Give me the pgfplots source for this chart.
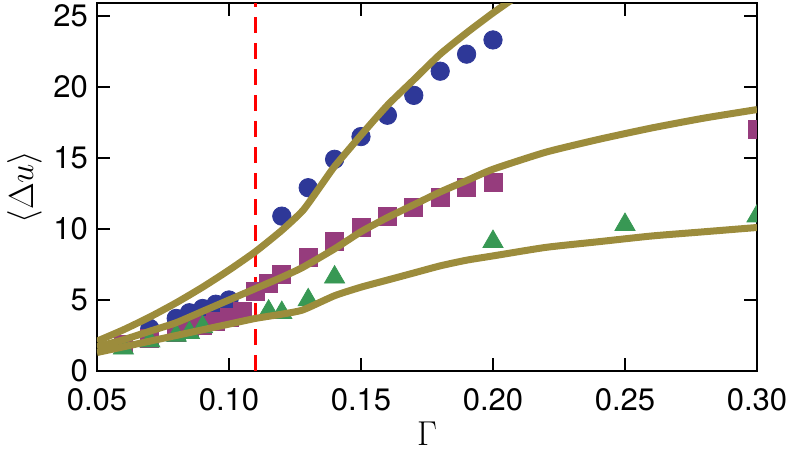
\documentclass[border=0pt]{standalone}
\usepackage{fontspec}
\setmainfont{TeX Gyre Heros}
\usepackage{pgfplots}
\pgfplotsset{compat=1.18}
\definecolor{olive2}{RGB}{156,140,60}
\definecolor{cblue}{RGB}{46,56,152}
\definecolor{cmag}{RGB}{150,60,125}
\definecolor{cgreen}{RGB}{56,152,84}
\begin{document}
\begin{tikzpicture}
\begin{axis}[
  scale only axis, width=330pt, height=184pt,
  xmin=0.05, xmax=0.30, ymin=0, ymax=25.9,
  clip marker paths=true,
  xtick={0.05,0.10,0.15,0.20,0.25,0.30},
  ytick={0,5,10,15,20,25},
  xticklabel style={/pgf/number format/fixed, /pgf/number format/fixed zerofill, /pgf/number format/precision=2, yshift=-5pt},
  yticklabel style={xshift=-1pt},
  /pgf/number format/assume math mode=true,
  tick label style={font=\fontsize{15.5}{17}\selectfont},
  tick align=inside, major tick length=6.5pt,
  tick style={black, line width=1pt},
  axis line style={line width=1.3pt},
  xlabel={$\Gamma$}, ylabel={$\langle\Delta u\rangle$},
  label style={font=\fontsize{18}{20}\selectfont},
  xlabel style={yshift=1pt},
  ylabel style={yshift=-1pt},
]
\addplot[red, line width=1.3pt, dash pattern=on 8pt off 5pt] coordinates {(0.11,0) (0.11,25.9)};
\addplot[only marks, mark=*, mark size=4.6pt, color=cblue] coordinates {
(0.07,3.0) (0.08,3.7) (0.085,4.1) (0.09,4.4) (0.095,4.7) (0.10,5.0)
(0.12,10.9) (0.13,12.9) (0.14,14.9) (0.15,16.5) (0.16,18.0) (0.17,19.4)
(0.18,21.1) (0.19,22.3) (0.20,23.3)};
\addplot[only marks, mark=square*, mark size=4.5pt, color=cmag] coordinates {
(0.06,1.9) (0.07,2.3) (0.08,2.7) (0.085,3.0) (0.09,3.2) (0.095,3.5) (0.10,3.8)
(0.105,4.2) (0.11,5.6) (0.115,6.2) (0.12,6.8) (0.13,8.0) (0.14,9.1) (0.15,10.1)
(0.16,10.9) (0.17,11.5) (0.18,12.2) (0.19,12.9) (0.20,13.3) (0.30,17.0)};
\addplot[only marks, mark=triangle*, mark size=5.8pt, color=cgreen] coordinates {
(0.06,1.6) (0.07,2.1) (0.08,2.5) (0.085,2.7) (0.09,3.1) (0.115,4.2) (0.12,4.1)
(0.13,5.0) (0.14,6.6) (0.20,9.1) (0.25,10.3) (0.30,10.9)};
\addplot[olive2, line width=3.5pt, no marks, smooth, tension=0.35] coordinates {
(0.05,2.1) (0.06,2.9) (0.07,3.8) (0.08,4.8) (0.09,5.9) (0.10,7.1) (0.11,8.4)
(0.12,9.9) (0.128,11.3) (0.135,13.1) (0.14,14.4) (0.15,16.6) (0.16,18.7)
(0.17,20.5) (0.18,22.3) (0.19,23.8) (0.20,25.2) (0.21,26.5)};
\addplot[olive2, line width=3.5pt, no marks, smooth, tension=0.35] coordinates {
(0.05,1.7) (0.06,2.2) (0.07,2.8) (0.08,3.4) (0.09,4.2) (0.10,5.0) (0.11,5.8)
(0.12,6.6) (0.128,7.3) (0.14,8.6) (0.15,9.8) (0.16,10.8) (0.17,11.7) (0.18,12.6)
(0.19,13.4) (0.20,14.2) (0.22,15.4) (0.24,16.3) (0.26,17.1) (0.28,17.8) (0.30,18.4)};
\addplot[olive2, line width=3.5pt, no marks, smooth, tension=0.35] coordinates {
(0.05,1.3) (0.06,1.7) (0.07,2.1) (0.08,2.5) (0.09,2.9) (0.10,3.3) (0.11,3.7)
(0.12,4.0) (0.128,4.3) (0.14,5.3) (0.15,5.9) (0.16,6.4) (0.17,6.9) (0.18,7.4)
(0.19,7.8) (0.20,8.1) (0.22,8.7) (0.24,9.1) (0.26,9.5) (0.28,9.8) (0.30,10.1)};
\end{axis}
\pgfresetboundingbox
\path[use as bounding box] (-48.5pt,-42pt) rectangle (345.5pt,185.5pt);
\end{tikzpicture}
\end{document}
